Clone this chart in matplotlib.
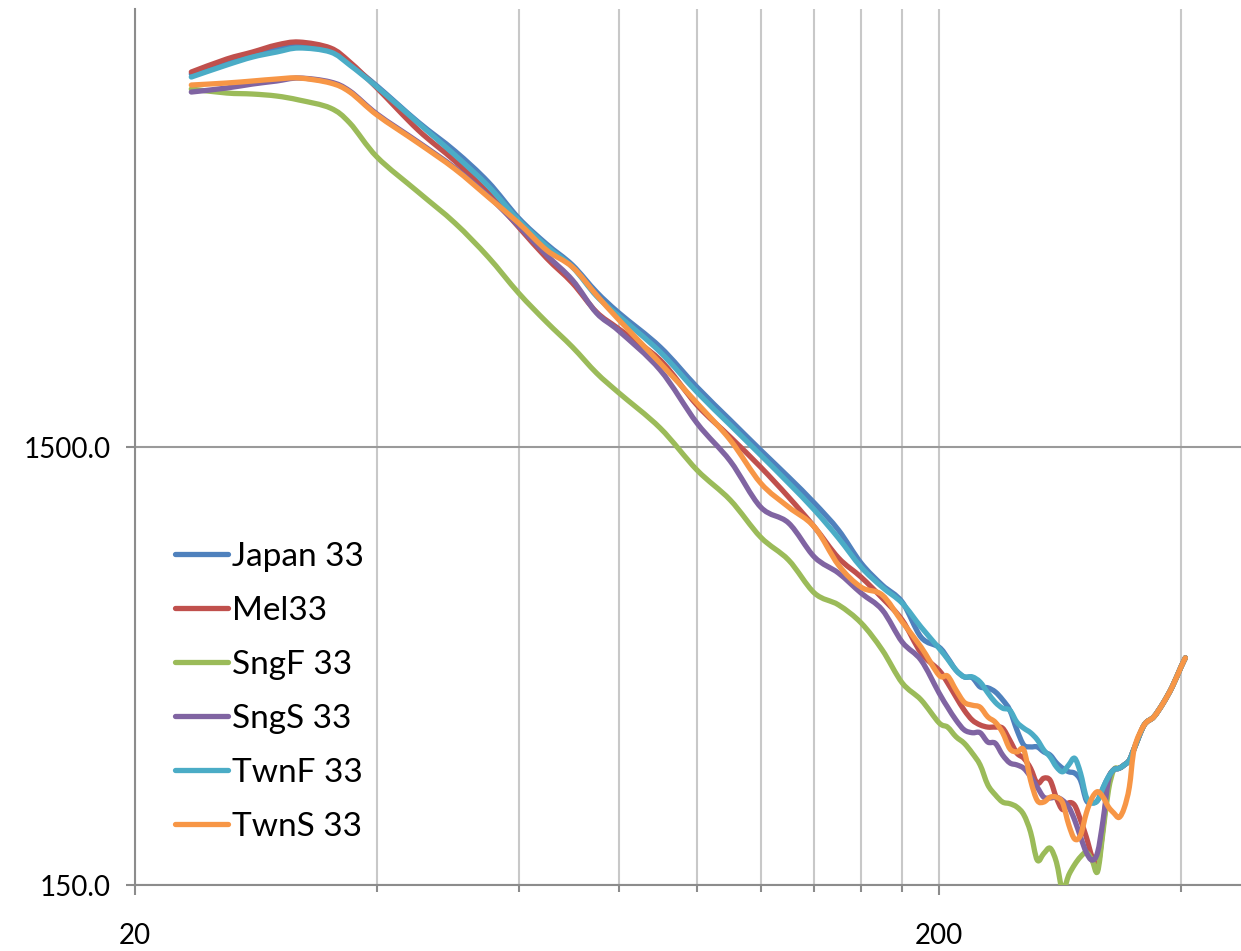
import matplotlib
matplotlib.use("Agg")
import numpy as np
import matplotlib.pyplot as plt
from matplotlib.ticker import NullLocator, FixedLocator, NullFormatter
from matplotlib.path import Path
from matplotlib.patches import PathPatch
from matplotlib.lines import Line2D

plt.rcParams['font.family'] = ['Lato', 'DejaVu Sans']

freq = [23.5, 26, 28, 30, 32, 35, 37, 40, 45, 50, 55, 60, 65, 70, 75, 80,
        90, 100, 110, 120, 130, 140, 150, 160, 170, 180, 190, 200,
        205, 210, 215, 220, 225, 230, 235, 240, 245, 250, 255, 260, 265, 270,
        275, 280, 285, 290, 295, 300, 305, 310, 315, 320, 325, 330, 335, 340,
        345, 350, 360, 370, 380, 390, 400, 405]

japan33 = [10660, 11350, 11776, 12150, 12410, 12090, 11230, 10005, 8280, 7109, 6040, 4998, 4360, 3904, 3388, 3034,
           2537, 2056, 1728, 1476, 1281, 1117, 969, 815, 726, 664, 552, 524,
           495, 464, 448, 446, 425, 423, 414, 397, 376, 339, 313, 310, 310, 302,
           297, 285, 277, 272, 270, 260, 234, 231, 234, 250, 265, 275, 277, 282,
           289, 308, 348, 363, 390, 425, 472, 495]

mel33 = [10770, 11530, 11963, 12412, 12609, 12220, 11350, 9901, 7938, 6745, 5701, 4767, 4050, 3552, 3049, 2788,
         2369, 1870, 1581, 1350, 1153, 985, 837, 757, 678, 604, 508, 464,
         434, 403, 376, 357, 348, 344, 344, 342, 321, 300, 292, 277, 256, 263,
         260, 237, 223, 231, 228, 211, 193, 174, 165, 203, 260, 275, 277, 282,
         289, 308, 348, 363, 390, 425, 472, 495]

sngf33 = [9848, 9644, 9593, 9493, 9295, 8912, 8237, 6888, 5731, 4869, 4072, 3370, 2893, 2537, 2213, 1992,
          1657, 1329, 1135, 934, 828, 696, 654, 595, 516, 434, 397, 352,
          344, 327, 316, 300, 282, 254, 241, 232, 230, 226, 217, 198, 171, 177,
          182, 169, 146, 158, 167, 174, 178, 171, 161, 199, 247, 275, 277, 282,
          289, 308, 348, 363, 390, 425, 472, 495]

sngs33 = [9694, 9901, 10111, 10273, 10435, 10220, 9746, 8635, 7454, 6501, 5611, 4793, 4115, 3608, 3034, 2759,
          2248, 1701, 1393, 1094, 1006, 841, 773, 696, 637, 538, 489, 412,
          382, 357, 339, 334, 334, 318, 316, 297, 285, 282, 277, 265, 251, 238,
          237, 238, 234, 226, 211, 193, 178, 171, 178, 211, 260, 275, 277, 282,
          289, 308, 348, 363, 390, 425, 472, 495]

twnf33 = [10490, 11173, 11652, 11963, 12220, 11963, 11173, 9953, 8237, 6961, 5914, 4946, 4314, 3863, 3317, 2986,
          2471, 2002, 1684, 1438, 1241, 1077, 929, 798, 718, 660, 582, 521,
          492, 464, 448, 448, 436, 412, 392, 380, 376, 353, 342, 334, 322, 305,
          294, 279, 272, 282, 292, 270, 238, 231, 234, 250, 265, 275, 277, 282,
          289, 308, 348, 363, 390, 425, 472, 495]

twns33 = [10058, 10165, 10273, 10380, 10435, 10165, 9694, 8590, 7415, 6467, 5582, 4869, 4224, 3863, 3334, 2924,
          2332, 1890, 1556, 1241, 1094, 985, 806, 718, 689, 598, 524, 452,
          450, 418, 392, 386, 382, 363, 353, 334, 307, 302, 305, 260, 234, 232,
          238, 238, 231, 206, 191, 195, 219, 237, 245, 238, 226, 219, 214, 225,
          251, 308, 348, 363, 390, 425, 472, 495]

series_names = ["Japan 33", "Mel33", "SngF 33", "SngS 33", "TwnF 33", "TwnS 33"]
series_vals = [japan33, mel33, sngf33, sngs33, twnf33, twns33]
colors = ["#4F81BD", "#C0504D", "#9BBB59", "#8064A2", "#4BACC6", "#F79646"]

x_major = [20, 200]
x_major_labels = ["20", "200"]
x_minor = [40, 60, 80, 100, 120, 140, 160, 180, 400]
y_major = [150, 1500]
y_major_labels = ["150.0", "1500.0"]


def smoothed_path(x, y):
    """Excel-style smoothed line: cubic Bezier through the points (in log-log space)."""
    pts = np.column_stack([np.log10(x), np.log10(y)])
    n = len(pts)
    verts = [pts[0]]
    codes = [Path.MOVETO]
    for i in range(n - 1):
        p0 = pts[max(i - 1, 0)]
        p1 = pts[i]
        p2 = pts[i + 1]
        p3 = pts[min(i + 2, n - 1)]
        c1 = p1 + (p2 - p0) / 6.0
        c2 = p2 - (p3 - p1) / 6.0
        verts += [c1, c2, p2]
        codes += [Path.CURVE4] * 3
    return Path(10 ** np.array(verts), codes)


W, H = 1241, 951
fig = plt.figure(figsize=(W / 100, H / 100), dpi=100)
ax = fig.add_axes([135 / W, 1 - 885 / H, 1 - 135 / W, (885 - 9) / H])
ax.set_xscale('log')
ax.set_yscale('log')

LW = 3.8
handles = []
for name, vals, c in zip(series_names, series_vals, colors):
    patch = PathPatch(smoothed_path(freq, vals), facecolor='none', edgecolor=c,
                      lw=LW, capstyle='round', joinstyle='round', zorder=3)
    ax.add_patch(patch)
    handles.append(Line2D([], [], color=c, lw=LW, solid_capstyle='round', label=name))

ax.set_xlim(20, 475)
ax.set_ylim(150, 15000)

ax.xaxis.set_major_locator(FixedLocator(x_major))
ax.set_xticklabels(x_major_labels)
ax.xaxis.set_minor_locator(FixedLocator(x_minor))
ax.xaxis.set_minor_formatter(NullFormatter())
ax.yaxis.set_major_locator(FixedLocator(y_major))
ax.set_yticklabels(y_major_labels)
ax.yaxis.set_minor_locator(NullLocator())

ax.set_axisbelow(True)
ax.grid(True, axis='x', which='both', color='#C8C8C8', lw=1.5)
ax.grid(True, axis='y', which='major', color='#9A9A9A', lw=1.5)

for s in ['top', 'right']:
    ax.spines[s].set_visible(False)
for s in ['left', 'bottom']:
    ax.spines[s].set_color('#8C8C8C')
    ax.spines[s].set_linewidth(1.5)

ax.tick_params(axis='x', which='major', length=7, width=1.5, color='#8C8C8C',
               labelsize=20, pad=20, labelcolor='black')
ax.tick_params(axis='x', which='minor', length=5, width=1.5, color='#8C8C8C')
ax.tick_params(axis='y', which='major', length=6.5, width=1.5, color='#8C8C8C',
               labelsize=20, pad=11, labelcolor='black')

leg = ax.legend(handles=handles, loc='upper left', bbox_to_anchor=(165 / W, 1 - 532 / H),
                bbox_transform=fig.transFigure, frameon=True, fancybox=False,
                framealpha=1.0, facecolor='white', edgecolor='none',
                fontsize=24, handlelength=1.6, handletextpad=0.12,
                labelspacing=0.72, borderpad=0.3, borderaxespad=0)

fig.savefig("out.png", dpi=100)
